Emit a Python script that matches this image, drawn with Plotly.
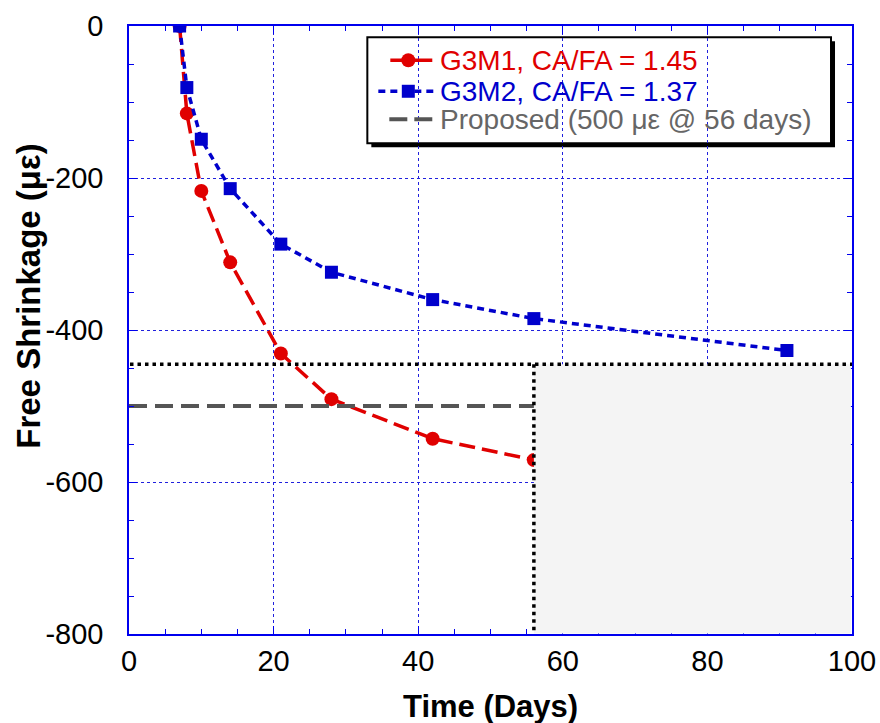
import plotly.graph_objects as go

# ---- data ----
days_g3m1 = [7, 8, 10, 14, 21, 28, 42, 56]
strain_g3m1 = [0, -115, -217, -311, -431, -491, -543, -571]
days_g3m2 = [7, 8, 10, 14, 21, 28, 42, 56, 91]
strain_g3m2 = [0, -81, -149, -214, -287, -324, -360, -385, -427]
proposed_days = [0, 100]
proposed_strain = [-500, -500]
limit_day = 56
limit_strain = -445
x_ticks = [0, 20, 40, 60, 80, 100]
y_ticks = [0, -200, -400, -600, -800]
series_names = ["G3M1, CA/FA = 1.45", "G3M2, CA/FA = 1.37", "Proposed (500 με @ 56 days)"]

RED, BLUE, GRAY = "#e00000", "#0000cc", "#555555"
FONT = "Arial, Liberation Sans, sans-serif"

# layout geometry (pixels)
W, H = 880, 723
L, R, T, B = 128.5, 852, 25.7, 634
pw, ph = R - L, B - T


def px(x):
    return (x - L) / pw


def py(y):
    return 1 - (y - T) / ph


red_line = dict(color=RED, width=3.5, dash="16px,7px")
blue_line = dict(color=BLUE, width=3.5, dash="7px,5px")
gray_line = dict(color=GRAY, width=4, dash="18px,8px")
red_marker = dict(symbol="circle", size=14, color=RED)
blue_marker = dict(symbol="square", size=13, color=BLUE)

fig = go.Figure()

fig.add_trace(go.Scatter(x=days_g3m1, y=strain_g3m1, mode="lines+markers",
                         name=series_names[0], line=red_line, marker=red_marker))
fig.add_trace(go.Scatter(x=days_g3m2, y=strain_g3m2, mode="lines+markers",
                         name=series_names[1], line=blue_line, marker=blue_marker))
fig.add_trace(go.Scatter(x=proposed_days, y=proposed_strain, mode="lines",
                         name=series_names[2], line=gray_line))

# ---- manual legend (samples on an overlay axis spanning the plot area) ----
rows_y = [60, 91, 119]
fig.add_trace(go.Scatter(x=[px(390), px(432)], y=[py(rows_y[0])] * 2, mode="lines",
                         line=dict(color=RED, width=3.5), xaxis="x2", yaxis="y2",
                         showlegend=False, hoverinfo="skip"))
fig.add_trace(go.Scatter(x=[px(408)], y=[py(rows_y[0])], mode="markers",
                         marker=red_marker, xaxis="x2", yaxis="y2",
                         showlegend=False, hoverinfo="skip"))
fig.add_trace(go.Scatter(x=[px(378), px(433)], y=[py(rows_y[1])] * 2, mode="lines",
                         line=dict(color=BLUE, width=3.5, dash="7px,5px"), xaxis="x2", yaxis="y2",
                         showlegend=False, hoverinfo="skip"))
fig.add_trace(go.Scatter(x=[px(408)], y=[py(rows_y[1])], mode="markers",
                         marker=blue_marker, xaxis="x2", yaxis="y2",
                         showlegend=False, hoverinfo="skip"))
fig.add_trace(go.Scatter(x=[px(389), px(432)], y=[py(rows_y[2])] * 2, mode="lines",
                         line=dict(color=GRAY, width=4, dash="18px,7px"), xaxis="x2", yaxis="y2",
                         showlegend=False, hoverinfo="skip"))

shapes = []
# shaded region
shapes.append(dict(type="rect", xref="x", yref="y", x0=limit_day, x1=99.85,
                   y0=limit_strain, y1=-799.5, fillcolor="#f4f4f4",
                   line=dict(width=0), layer="above"))
# dotted limit lines
shapes.append(dict(type="line", xref="x", yref="y", x0=-0.9, x1=100,
                   y0=limit_strain, y1=limit_strain,
                   line=dict(color="black", width=3.5, dash="3.5px,4px"), layer="above"))
shapes.append(dict(type="line", xref="x", yref="y", x0=limit_day, x1=limit_day,
                   y0=limit_strain, y1=-800,
                   line=dict(color="black", width=3.5, dash="3.5px,4px"), layer="above"))
# legend box with shadow
lx0, lx1, ly0, ly1 = 367, 831, 37, 143
shapes.append(dict(type="rect", xref="paper", yref="paper",
                   x0=px(lx0 + 4), x1=px(lx1 + 4), y0=py(ly0 + 4), y1=py(ly1 + 4),
                   fillcolor="black", line=dict(width=0), layer="between"))
shapes.append(dict(type="rect", xref="paper", yref="paper",
                   x0=px(lx0), x1=px(lx1), y0=py(ly0), y1=py(ly1),
                   fillcolor="white", line=dict(color="black", width=2), layer="between"))

axis_common = dict(
    showline=True, linecolor="#0000ee", linewidth=1.5, mirror="ticks",
    ticks="inside", ticklen=8, tickwidth=1.2, tickcolor="#0000ee",
    showgrid=True, gridcolor="#2020dd", griddash="dot", gridwidth=1,
    zeroline=False, automargin=False,
    tickfont=dict(family=FONT, size=29, color="black"),
)

annotations = [
    dict(text="<b>Time (Days)</b>", xref="paper", yref="paper",
         x=px(490), y=py(707), xanchor="center", yanchor="middle", showarrow=False,
         font=dict(family=FONT, size=31, color="black")),
    dict(text="<b>Free Shrinkage (με)</b>", xref="paper", yref="paper",
         x=px(28), y=py(296), xanchor="center", yanchor="middle", showarrow=False,
         textangle=-90, font=dict(family=FONT, size=33, color="black")),
]
for name, color, yrow in zip(series_names, [RED, BLUE, "#666666"], rows_y):
    annotations.append(dict(text=name, xref="paper", yref="paper",
                            x=px(438), y=py(yrow), xanchor="left", yanchor="middle",
                            showarrow=False, font=dict(family=FONT, size=28, color=color)))

fig.update_layout(
    width=W, height=H,
    margin=dict(l=L, r=W - R, t=T, b=H - B, pad=0, autoexpand=False),
    paper_bgcolor="white", plot_bgcolor="white",
    showlegend=False,
    shapes=shapes,
    annotations=annotations,
    xaxis=dict(range=[0, 100], tickvals=x_ticks, ticktext=[str(v) for v in x_ticks],
               minor=dict(dtick=5, ticks="inside", ticklen=5, tickcolor="#0000ee", showgrid=False),
               ticklabelstandoff=0, ticklabeloverflow="allow", **axis_common),
    yaxis=dict(range=[-800, 0], tickvals=y_ticks, ticktext=[str(v) for v in y_ticks],
               minor=dict(dtick=50, ticks="inside", ticklen=5, tickcolor="#0000ee", showgrid=False),
               ticklabelstandoff=18, **axis_common),
    xaxis2=dict(range=[0, 1], overlaying="x", anchor="y2", visible=False, fixedrange=True),
    yaxis2=dict(range=[0, 1], overlaying="y", anchor="x2", visible=False, fixedrange=True),
)

fig.write_html("out.html", config={"displayModeBar": False},
               post_script="document.body.style.margin='0';document.body.style.overflow='hidden';")
